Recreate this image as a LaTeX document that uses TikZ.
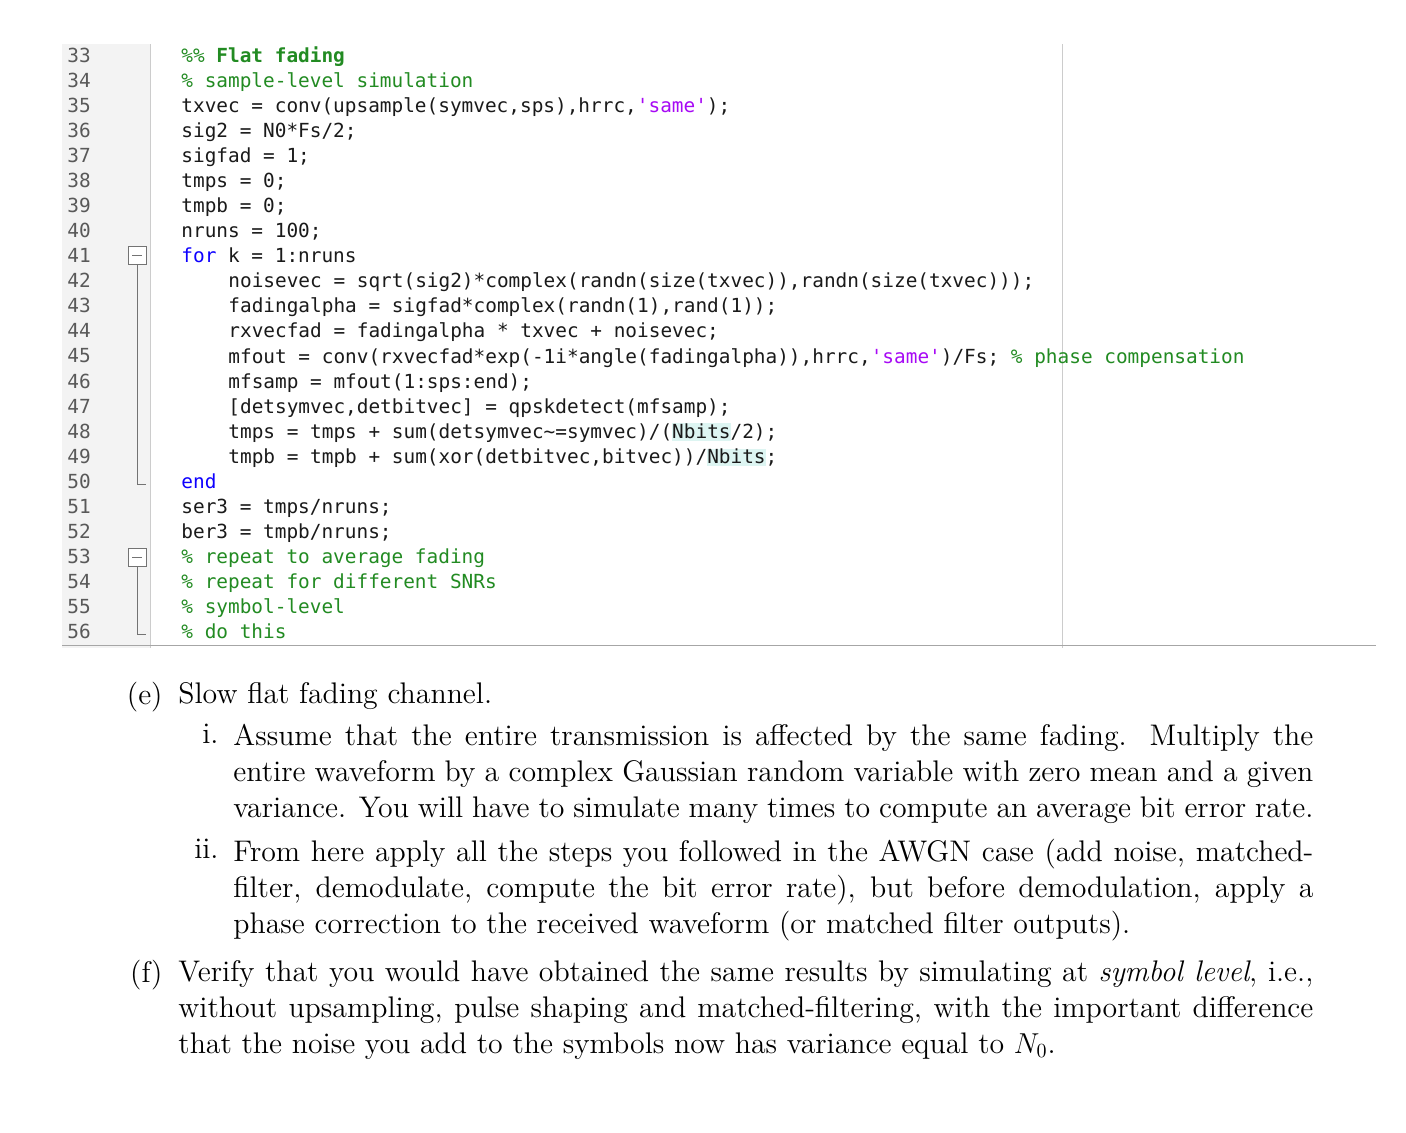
\documentclass[tikz,border=0pt]{standalone}
\usepackage{fontspec}
\newfontfamily\cmono{DejaVu Sans Mono}[Scale=1]
\definecolor{cgreen}{HTML}{228B22}
\definecolor{cblue}{HTML}{0E00FF}
\definecolor{cstr}{HTML}{A709F5}
\definecolor{ctext}{HTML}{1A1A1A}
\definecolor{gut}{HTML}{F3F3F3}
\definecolor{hlc}{HTML}{DDF5F2}
\newcommand{\q}{{\char"27}}
\newcommand{\tl}{{\char"7E}}
\newcommand{\cm}[1]{\textcolor{cgreen}{#1}}
\newcommand{\kw}[1]{\textcolor{cblue}{#1}}
\newcommand{\st}[1]{\textcolor{cstr}{#1}}
\newcommand{\hlw}[1]{{\setlength\fboxsep{0pt}\colorbox{hlc}{\vphantom{Nb(}#1}}}
\begin{document}
\begin{tikzpicture}[x=0.5pt,y=-0.5pt,
  code/.style={anchor=base west,inner sep=0pt,font=\cmono\fontsize{9.7}{12}\selectfont,text=ctext},
  lnum/.style={anchor=base west,inner sep=0pt,font=\cmono\fontsize{9.7}{12}\selectfont,text=black!65},
  para/.style={anchor=north west,inner sep=0pt,align=justify,font=\fontsize{14.9}{18}\selectfont},
  lbl/.style={anchor=north east,inner sep=0pt,font=\fontsize{14.9}{18}\selectfont}]
\useasboundingbox (0,0) rectangle (1406,1132);
\fill[white] (0,0) rectangle (1406,1132);
\fill[gut] (62,44) rectangle (150,648);
\draw[black!20] (150,44) -- (150,648);
\draw[black!20] (1062,44) -- (1062,648);
\draw[black!35] (62,645) -- (1376,645);
% fold markers
\draw[black!55,fill=white] (128,246) rectangle (146,264);
\draw[black!55] (132,255) -- (142,255);
\draw[black!55] (137,264) -- (137,484) -- (146,484);
\draw[black!55,fill=white] (128,548) rectangle (146,566);
\draw[black!55] (132,557) -- (142,557);
\draw[black!55] (137,566) -- (137,634) -- (146,634);
% line numbers
\foreach \n [count=\i from 0] in {33,...,56}
  \node[lnum] (ln\n) at (67,{62+25.08*\i}) {\n};
% code
\node[code] (c33) at (181,62) {\cm{\%\% \textbf{Flat fading}}};
\node[code] (c34) at (181,87.1) {\cm{\% sample-level simulation}};
\node[code] (c35) at (181,112.2) {txvec = conv(upsample(symvec,sps),hrrc,\st{\q same\q});};
\node[code] (c36) at (181,137.2) {sig2 = N0*Fs/2;};
\node[code] (c37) at (181,162.3) {sigfad = 1;};
\node[code] (c38) at (181,187.4) {tmps = 0;};
\node[code] (c39) at (181,212.5) {tmpb = 0;};
\node[code] (c40) at (181,237.6) {nruns = 100;};
\node[code] (c41) at (181,262.6) {\kw{for} k = 1:nruns};
\node[code] (c42) at (228,287.7) {noisevec = sqrt(sig2)*complex(randn(size(txvec)),randn(size(txvec)));};
\node[code] (c43) at (228,312.8) {fadingalpha = sigfad*complex(randn(1),rand(1));};
\node[code] (c44) at (228,337.9) {rxvecfad = fadingalpha * txvec + noisevec;};
\node[code] (c45) at (228,363.0) {mfout = conv(rxvecfad*exp(-1i*angle(fadingalpha)),hrrc,\st{\q same\q})/Fs; \cm{\% phase compensation}};
\node[code] (c46) at (228,388.0) {mfsamp = mfout(1:sps:end);};
\node[code] (c47) at (228,413.1) {[detsymvec,detbitvec] = qpskdetect(mfsamp);};
\node[code] (c48) at (228,438.2) {tmps = tmps + sum(detsymvec\tl=symvec)/(\hlw{Nbits}/2);};
\node[code] (c49) at (228,463.3) {tmpb = tmpb + sum(xor(detbitvec,bitvec))/\hlw{Nbits};};
\node[code] (c50) at (181,488.4) {\kw{end}};
\node[code] (c51) at (181,513.4) {ser3 = tmps/nruns;};
\node[code] (c52) at (181,538.5) {ber3 = tmpb/nruns;};
\node[code] (c53) at (181,563.6) {\cm{\% repeat to average fading}};
\node[code] (c54) at (181,588.7) {\cm{\% repeat for different SNRs}};
\node[code] (c55) at (181,613.8) {\cm{\% symbol-level}};
\node[code] (c56) at (181,638.8) {\cm{\% do this}};
% text
\node[lbl] (le) at (163,682) {(e)};
\node[para,anchor=north west] (te) at (178,682) {Slow flat fading channel.};
\node[lbl] (li) at (219,724) {i.};
\node[para,text width=540pt] (ti) at (233,724) {Assume that the entire transmission is affected by the same fading. Multiply the entire waveform by a complex Gaussian random variable with zero mean and a given variance. You will have to simulate many times to compute an average bit error rate.};
\node[lbl] (lii) at (219,839) {ii.};
\node[para,text width=540pt] (tii) at (233,839) {From here apply all the steps you followed in the AWGN case (add noise, matched-filter, demodulate, compute the bit error rate), but before demodulation, apply a phase correction to the received waveform (or matched filter outputs).};
\node[lbl] (lf) at (163,960) {(f)};
\node[para,text width=567.5pt] (tf) at (178,960) {Verify that you would have obtained the same results by simulating at \emph{symbol level}, i.e., without upsampling, pulse shaping and matched-filtering, with the important difference that the noise you add to the symbols now has variance equal to $N_0$.};
\end{tikzpicture}
\end{document}
